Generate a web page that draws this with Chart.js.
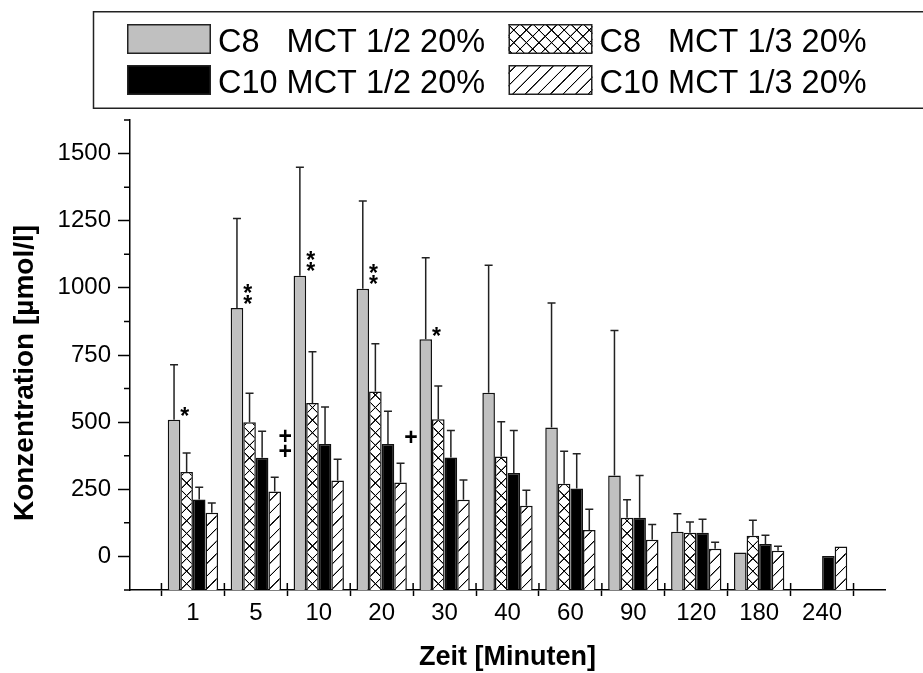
<!DOCTYPE html>
<html>
<head>
<meta charset="utf-8">
<script src="https://cdn.jsdelivr.net/npm/chart.js@4"></script>
<style>
  html, body { margin: 0; padding: 0; background: #fff; }
  #wrap { width: 923px; height: 673px; position: relative; }
</style>
</head>
<body>
<div id="wrap"><canvas id="chartDiv"></canvas></div>
<script>
const times = ['1', '5', '10', '20', '30', '40', '60', '90', '120', '180', '240']
const seriesNames = ['C8   MCT 1/2 20%', 'C8   MCT 1/3 20%', 'C10 MCT 1/2 20%', 'C10 MCT 1/3 20%']

// means
const c8Half   = [509, 925, 1045, 997, 809, 609, 480, 301, 92, 15, null]
const c8Third  = [314, 500, 571, 614, 511, 372, 271, 144, 88, 77, null]
const c10Half  = [212, 367, 419, 419, 368, 311, 253, 144, 88, 46, 2]
const c10Third = [163, 242, 283, 275, 211, 189, 98, 62, 29, 21, 37]

// standard deviations (upper whisker only)
const c8HalfSd   = [205, 333, 404, 326, 303, 475, 464, 540, 67, null, null]
const c8ThirdSd  = [71, 108, 191, 178, 124, 129, 121, 67, 40, 58, null]
const c10HalfSd  = [46, 99, 137, 122, 101, 158, 129, 157, 50, 33, null]
const c10ThirdSd = [36, 53, 79, 72, 74, 57, 78, 57, 24, 17, null]

// significance marks: '*' on C8 1/2, '+' on C10 1/2
const starMarks = ['*', '**', '**', '**', '*', '', '', '', '', '', '']
const plusMarks = ['', '++', '', '+', '', '', '', '', '', '', '']

const yTicks = [0, 250, 500, 750, 1000, 1250, 1500]
const yMin = -125
const yMax = 1625

const FONT = "'Liberation Sans', Arial, sans-serif"
const chartElement = document.getElementById('chartDiv')
const mainCtx = chartElement.getContext('2d')

const TILE = 48
function makePattern(kind) {
  const c = document.createElement('canvas')
  c.width = TILE
  c.height = TILE
  const g = c.getContext('2d')
  g.fillStyle = '#fff'
  g.fillRect(0, 0, TILE, TILE)
  g.strokeStyle = '#000'
  g.lineWidth = 4
  g.beginPath()
  g.moveTo(-TILE / 2, TILE / 2); g.lineTo(TILE / 2, -TILE / 2)
  g.moveTo(0, TILE); g.lineTo(TILE, 0)
  g.moveTo(TILE / 2, TILE * 1.5); g.lineTo(TILE * 1.5, TILE / 2)
  if (kind === 'cross') {
    g.moveTo(-TILE / 2, TILE / 2); g.lineTo(TILE / 2, TILE * 1.5)
    g.moveTo(0, 0); g.lineTo(TILE, TILE)
    g.moveTo(TILE / 2, -TILE / 2); g.lineTo(TILE * 1.5, TILE / 2)
  }
  g.stroke()
  return mainCtx.createPattern(c, 'repeat')
}
const crossPattern = makePattern('cross')
const hatchPattern = makePattern('hatch')

const toPoints = arr => arr.map((v, i) => ({ x: i, y: v }))

function makeSet(label, values, sd, fill) {
  return {
    label,
    data: toPoints(values),
    sd,
    backgroundColor: fill,
    borderColor: '#111',
    borderWidth: 1.5,
    base: yMin,
    categoryPercentage: 0.8,
    barPercentage: 1.0,
  }
}

function textCentered(ctx, text, cx, cy) {
  const m = ctx.measureText(text)
  const x = cx - (m.actualBoundingBoxRight - m.actualBoundingBoxLeft) / 2
  const y = cy + (m.actualBoundingBoxAscent - m.actualBoundingBoxDescent) / 2
  ctx.fillText(text, x, y)
}

// align hatch patterns with the bars
const patternAlign = {
  id: 'patternAlign',
  beforeDatasetsDraw(chart) {
    [[1, crossPattern], [3, hatchPattern]].forEach(([di, pat]) => {
      const bar = chart.getDatasetMeta(di).data[0]
      const s = bar.width / TILE
      pat.setTransform(new DOMMatrix([s, 0, 0, s, bar.x - bar.width / 2, chart.chartArea.bottom]))
    })
  }
}

const errorBars = {
  id: 'errorBars',
  afterDatasetsDraw(chart) {
    const ctx = chart.ctx
    const yScale = chart.scales.y
    ctx.save()
    ctx.strokeStyle = '#222'
    ctx.lineWidth = 1.5
    chart.data.datasets.forEach((ds, di) => {
      const meta = chart.getDatasetMeta(di)
      ds.sd.forEach((e, i) => {
        const v = ds.data[i].y
        if (e == null || v == null) return
        const bar = meta.data[i]
        const top = yScale.getPixelForValue(v + e)
        ctx.beginPath()
        ctx.moveTo(bar.x, bar.y)
        ctx.lineTo(bar.x, top)
        ctx.moveTo(bar.x - 4, top)
        ctx.lineTo(bar.x + 4, top)
        ctx.stroke()
      })
    })
    ctx.restore()
  }
}

const decorations = {
  id: 'decorations',
  afterDraw(chart) {
    const ctx = chart.ctx
    const area = chart.chartArea
    const xScale = chart.scales.x
    const yScale = chart.scales.y
    ctx.save()
    ctx.strokeStyle = '#000'
    ctx.lineWidth = 1.5

    // minor y ticks
    ctx.beginPath()
    for (let v = yMin; v <= yMax; v += 125) {
      if (yTicks.includes(v)) continue
      const py = yScale.getPixelForValue(v)
      ctx.moveTo(area.left - 6, py)
      ctx.lineTo(area.left, py)
    }
    // x ticks also reach into the plot
    for (let i = 0; i <= times.length; i++) {
      const px = xScale.getPixelForValue(i - 0.5)
      ctx.moveTo(px, area.bottom - 7)
      ctx.lineTo(px, area.bottom)
    }
    ctx.moveTo(area.left - 5, area.bottom)
    ctx.lineTo(area.left, area.bottom)
    ctx.stroke()

    // significance marks
    ctx.fillStyle = '#000'
    const grayMeta = chart.getDatasetMeta(0)
    const blackMeta = chart.getDatasetMeta(2)
    ctx.font = 'bold 23px ' + FONT
    starMarks.forEach((m, i) => {
      const bar = grayMeta.data[i]
      const cx = bar.x + bar.width / 2 + 4.5
      if (m.length === 1) textCentered(ctx, '*', cx, bar.y - 8)
      if (m.length === 2) {
        textCentered(ctx, '*', cx, bar.y - 9)
        textCentered(ctx, '*', cx, bar.y - 20)
      }
    })
    ctx.font = 'bold 23px ' + FONT
    plusMarks.forEach((m, i) => {
      const bar = blackMeta.data[i]
      const cx = bar.x + bar.width * 1.5 + 4
      for (let k = 0; k < m.length; k++) textCentered(ctx, '+', cx, bar.y - 7 - k * 15)
    })

    // axis titles
    ctx.font = 'bold 27px ' + FONT
    ctx.textAlign = 'center'
    ctx.fillText('Zeit [Minuten]', (area.left + area.right) / 2, 665)
    ctx.save()
    ctx.translate(33, 373)
    ctx.rotate(-Math.PI / 2)
    ctx.font = 'bold 28px ' + FONT
    ctx.fillText('Konzentration [\u00b5mol/l]', 0, 0)
    ctx.restore()

    // legend
    ctx.textAlign = 'left'
    ctx.strokeStyle = '#222'
    ctx.lineWidth = 1.5
    ctx.strokeRect(93.5, 11.75, 840, 96.5)
    ctx.font = '34px ' + FONT
    const colX = [127, 508.5]
    const rowY = [24, 65]
    chart.data.datasets.forEach((ds, i) => {
      const sx = colX[i % 2]
      const sy = rowY[Math.floor(i / 2)]
      ctx.fillStyle = ds.backgroundColor
      ctx.fillRect(sx, sy, 84, 30)
      ctx.strokeStyle = '#222'
      ctx.strokeRect(sx + 0.75, sy + 0.75, 82.5, 28.5)
      ctx.fillStyle = '#000'
      // the reference face is a little narrower than Liberation Sans
      ctx.save()
      ctx.translate(sx + 91, sy + 28)
      ctx.scale(0.955, 1)
      ctx.fillText(seriesNames[i], 0, 0)
      ctx.restore()
    })
    ctx.restore()
  }
}

const tickFont = { family: FONT, size: 24 }

new Chart(chartElement, {
  type: 'bar',
  data: {
    datasets: [
      makeSet(seriesNames[0], c8Half, c8HalfSd, '#c0c0c0'),
      makeSet(seriesNames[1], c8Third, c8ThirdSd, crossPattern),
      makeSet(seriesNames[2], c10Half, c10HalfSd, '#000'),
      makeSet(seriesNames[3], c10Third, c10ThirdSd, hatchPattern),
    ]
  },
  options: {
    responsive: true,
    maintainAspectRatio: false,
    animation: false,
    layout: { padding: { top: 120, right: 38, bottom: 0, left: 0 } },
    scales: {
      x: {
        type: 'linear',
        min: -1,
        max: 11,
        offset: false,
        afterBuildTicks: s => { s.ticks = times.map((t, i) => ({ value: i })) },
        afterFit: s => { s.height = 83 },
        ticks: {
          callback: v => times[v] ?? '',
          autoSkip: false,
          maxRotation: 0,
          font: tickFont,
          color: '#000',
          padding: 3,
        },
        grid: { offset: true, drawOnChartArea: false, tickLength: 6, tickWidth: 1.5, tickColor: '#000', color: '#000' },
        border: { color: '#000', width: 1.5 },
      },
      y: {
        min: yMin,
        max: yMax,
        afterBuildTicks: s => { s.ticks = yTicks.map(v => ({ value: v })) },
        afterFit: s => { s.width = 130 },
        ticks: { font: tickFont, color: '#000', padding: 7, callback: v => String(v) },
        grid: { drawOnChartArea: false, tickLength: 12, tickWidth: 1.5, tickColor: '#000', color: '#000' },
        border: { color: '#000', width: 1.5 },
      }
    },
    plugins: {
      legend: { display: false },
      tooltip: { enabled: false },
    }
  },
  plugins: [patternAlign, errorBars, decorations]
});
</script>
</body>
</html>
